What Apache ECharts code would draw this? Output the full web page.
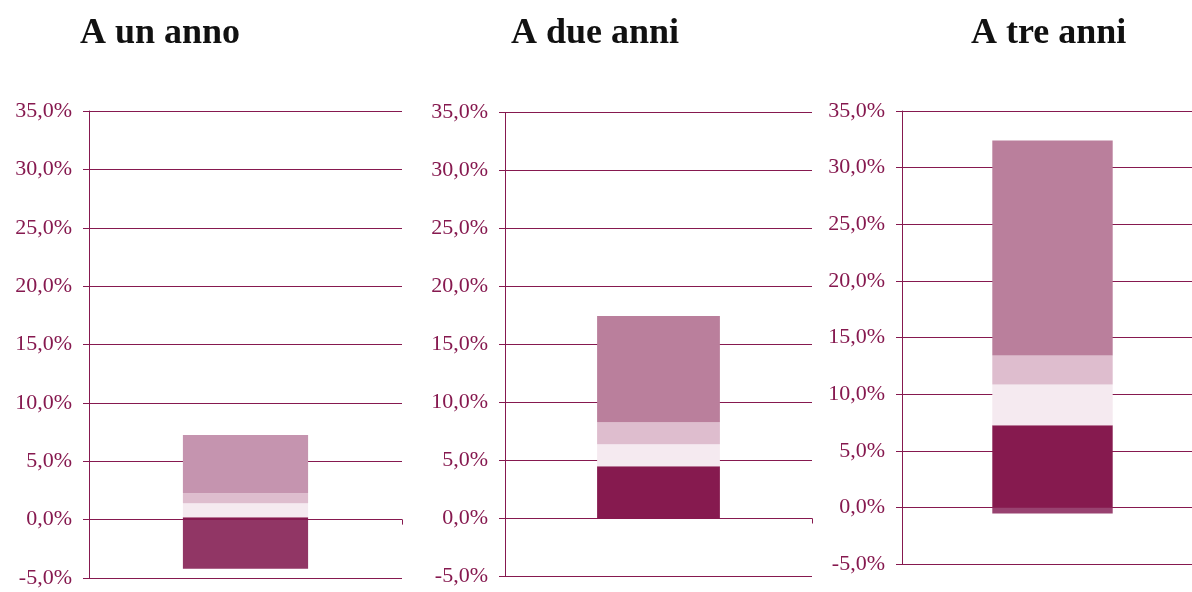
<!DOCTYPE html>
<html>
<head>
<meta charset="utf-8">
<script src="https://cdn.jsdelivr.net/npm/echarts@6/dist/echarts.min.js"></script>
<style>
  html, body { margin: 0; padding: 0; background: #fff; }
  #main { width: 1192px; height: 592px; }
</style>
</head>
<body>
<div id="main"></div>
<script>
// dati (valori in %)
var panels = ['A un anno', 'A due anni', 'A tre anni'];
var negPart = [-4.2, 0, -0.55];
var darkPart = [0.2, 4.5, 7.25];
var palePart = [1.2, 1.9, 3.6];
var lightPart = [0.85, 1.9, 2.55];
var mediumPart = [5.0, 9.15, 19.0];
var yTicks = { min: -5, max: 35, interval: 5 };

var axisColor = '#86194f';
var labelFont = 'Liberation Serif';

// posizione di ogni pannello (il terzo esce un po' dal bordo destro)
var grids = [
    { left: 89, top: 111, width: 313, height: 467, outerBoundsMode: 'none' },
    { left: 505, top: 112.5, width: 307, height: 464, outerBoundsMode: 'none' },
    { left: 902, top: 111, width: 301, height: 453, outerBoundsMode: 'none' }
];
var titleLeft = [75, 506, 966];
var mediumColors = ['#c594af', '#ba7f9c', '#ba7f9c'];
var negColors = ['#913665', '#913665', '#984270'];

var myChart = echarts.init(document.getElementById('main'));

var layers = [
    { name: 'neg', data: negPart, color: function (i) { return negColors[i]; } },
    { name: 'dark', data: darkPart, color: function () { return '#861a4f'; } },
    { name: 'pale', data: palePart, color: function () { return '#f5eaf0'; } },
    { name: 'light', data: lightPart, color: function () { return '#debdce'; } },
    { name: 'medium', data: mediumPart, color: function (i) { return mediumColors[i]; } }
];

var title = [], xAxis = [], yAxis = [], series = [];
panels.forEach(function (p, i) {
    title.push({
        text: p,
        left: titleLeft[i],
        top: 11,
        textStyle: { fontFamily: 'Liberation Serif', fontWeight: 'bold', fontSize: 36, color: '#111' }
    });
    xAxis.push({
        type: 'category',
        gridIndex: i,
        data: [p],
        axisLine: { onZero: true, lineStyle: { color: axisColor, width: 1 } },
        axisTick: { show: true, length: 5, lineStyle: { color: axisColor } },
        axisLabel: { show: false }
    });
    yAxis.push({
        type: 'value',
        gridIndex: i,
        min: yTicks.min,
        max: yTicks.max,
        interval: yTicks.interval,
        axisLine: { show: true, lineStyle: { color: axisColor, width: 1 } },
        axisTick: { show: true, length: 6, lineStyle: { color: axisColor } },
        splitLine: { show: true, lineStyle: { color: axisColor, width: 1 } },
        axisLabel: {
            color: axisColor,
            fontFamily: labelFont,
            fontSize: 22,
            margin: 17,
            formatter: function (v) { return v.toFixed(1).replace('.', ',') + '%'; }
        }
    });
    layers.forEach(function (l) {
        series.push({
            name: l.name,
            type: 'bar',
            xAxisIndex: i,
            yAxisIndex: i,
            stack: 'tot' + i,
            barWidth: '40%',
            data: [l.data[i]],
            itemStyle: { color: l.color(i) },
            z: 3
        });
    });
});

var option = {
    animation: false,
    title: title,
    grid: grids,
    xAxis: xAxis,
    yAxis: yAxis,
    series: series
};
myChart.setOption(option);
</script>
</body>
</html>
